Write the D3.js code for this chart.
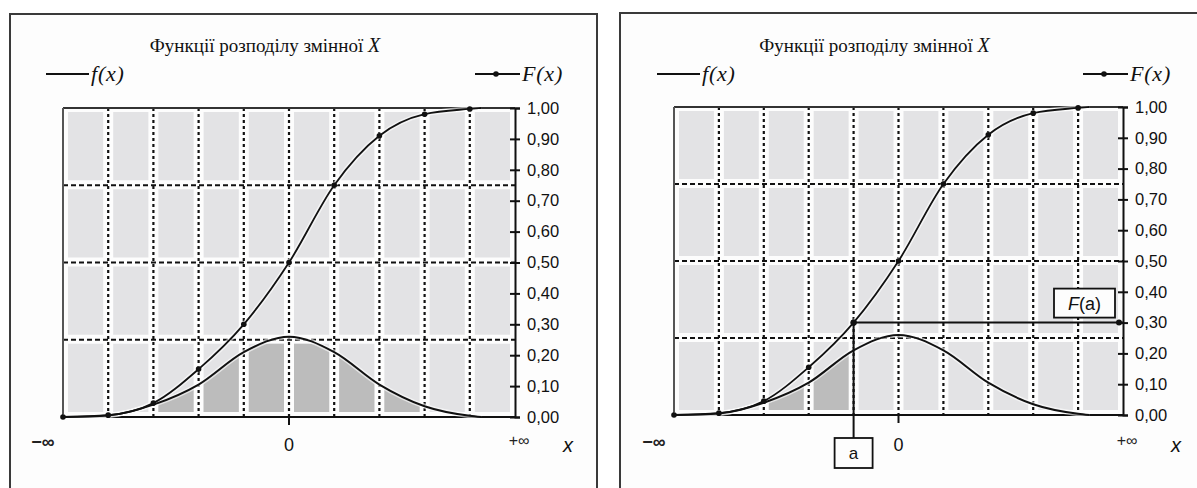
<!DOCTYPE html>
<html>
<head>
<meta charset="utf-8">
<script src="https://cdn.jsdelivr.net/npm/d3@7"></script>
<style>
  body { margin: 0; background: #fff; }
  svg { display: block; }
</style>
</head>
<body>
<svg id="chart" width="1197" height="488"></svg>
<script>
// x positions of the plotted points (grid steps of the variable X)
const xValues = [-5, -4, -3, -2, -1, 0, 1, 2, 3, 4, 4.25];
// density f(x)
const densityValues = [0, 0.005, 0.04, 0.105, 0.21, 0.26, 0.21, 0.105, 0.035, 0.004, 0];
// distribution function F(x)
const cdfValues = [0, 0.006, 0.045, 0.155, 0.30, 0.50, 0.75, 0.91, 0.98, 0.997, 1.0];
// markers of F(x) are drawn only at whole grid steps
const markerCount = 10;

const xDomain = [-5, 5];
const xGridValues = [-4, -3, -2, -1, 0, 1, 2, 3, 4];
const xCellEdges = [-5, -4, -3, -2, -1, 0, 1, 2, 3, 4, 5];
const yGridValues = [0.25, 0.5, 0.75];
const yCellEdges = [0, 0.25, 0.5, 0.75, 1];
const yTickValues = [0, 0.1, 0.2, 0.3, 0.4, 0.5, 0.6, 0.7, 0.8, 0.9, 1.0];
const yTickLabels = ["0,00", "0,10", "0,20", "0,30", "0,40", "0,50", "0,60", "0,70", "0,80", "0,90", "1,00"];

const titleText = "Функції розподілу змінної ";
const titleVar = "X";
const legendDensity = "f(x)";
const legendCdf = "F(x)";
const minusInf = "\u2212\u221E";
const plusInf = "+\u221E";
const zeroLabel = "0";
const axisName = "x";
const pointLabel = "a";

const panels = [
  { frame: [10, 14, 587, 500], left: 63, right: 515, top: 108, bottom: 417,
    shade: [-3, 3], annotate: null },
  { frame: [620, 13, 600, 500], left: 674, right: 1123, top: 107, bottom: 415,
    shade: [-3, -1], annotate: -1 }
];

const svg = d3.select("#chart");
const LIGHT = "#e3e3e5";
const DARK = "#bcbcbc";
const GAP = 5;
const SANS = "Liberation Sans, Arial, sans-serif";
const SERIF = "Liberation Serif, Times New Roman, serif";

panels.forEach((p, pi) => {
  const g = svg.append("g");
  const x = d3.scaleLinear().domain(xDomain).range([p.left, p.right]);
  const y = d3.scaleLinear().domain([0, 1]).range([p.bottom, p.top]);

  // panel frame
  g.append("rect")
    .attr("x", p.frame[0]).attr("y", p.frame[1])
    .attr("width", p.frame[2]).attr("height", p.frame[3])
    .attr("fill", "#fdfdfd").attr("stroke", "#3a3a3a").attr("stroke-width", 2);

  // background cells separated by white strips
  const cells = [];
  for (let i = 0; i < xCellEdges.length - 1; i++) {
    for (let j = 0; j < yCellEdges.length - 1; j++) {
      cells.push({ x0: xCellEdges[i], x1: xCellEdges[i + 1], y0: yCellEdges[j], y1: yCellEdges[j + 1] });
    }
  }
  const cellRect = sel => sel
    .attr("x", d => x(d.x0) + GAP)
    .attr("y", d => y(d.y1) + GAP - 1)
    .attr("width", d => x(d.x1) - x(d.x0) - 2 * GAP)
    .attr("height", d => y(d.y0) - y(d.y1) - 2 * GAP + 1);

  g.append("g").selectAll("rect").data(cells).join("rect")
    .call(cellRect).attr("fill", LIGHT);

  // shaded area under f(x) inside the chosen columns
  const clipId = "shade" + pi;
  g.append("clipPath").attr("id", clipId)
    .selectAll("rect")
    .data(cells.filter(c => c.x0 >= p.shade[0] && c.x1 <= p.shade[1]))
    .join("rect").call(cellRect);

  const pts = xValues.map((v, i) => ({ x: v, f: densityValues[i], F: cdfValues[i] }));
  const area = d3.area().x(d => x(d.x)).y0(y(0)).y1(d => y(d.f)).curve(d3.curveMonotoneX);
  g.append("path").datum(pts).attr("d", area)
    .attr("fill", DARK).attr("clip-path", `url(#${clipId})`);

  // dashed grid
  g.append("g").selectAll("line").data(yGridValues).join("line")
    .attr("x1", p.left).attr("x2", p.right)
    .attr("y1", d => y(d)).attr("y2", d => y(d))
    .attr("stroke", "#111").attr("stroke-width", 2).attr("stroke-dasharray", "5,3");
  g.append("g").selectAll("line").data(xGridValues).join("line")
    .attr("x1", d => x(d)).attr("x2", d => x(d))
    .attr("y1", p.top).attr("y2", p.bottom)
    .attr("stroke", "#111").attr("stroke-width", 2.2).attr("stroke-dasharray", "3,3");

  // plot border
  g.append("line").attr("x1", p.left).attr("x2", p.right).attr("y1", p.top).attr("y2", p.top)
    .attr("stroke", "#333").attr("stroke-width", 2);
  g.append("line").attr("x1", p.left).attr("x2", p.left).attr("y1", p.top).attr("y2", p.bottom)
    .attr("stroke", "#555").attr("stroke-width", 2);
  g.append("line").attr("x1", p.left).attr("x2", p.right).attr("y1", p.bottom).attr("y2", p.bottom)
    .attr("stroke", "#111").attr("stroke-width", 2);

  // right value axis
  const axis = d3.axisRight(y).tickValues(yTickValues)
    .tickFormat((d, i) => yTickLabels[i]).tickSize(5).tickPadding(7);
  const ag = g.append("g").attr("transform", `translate(${p.right},0)`).call(axis);
  ag.select(".domain").attr("stroke", "#111").attr("stroke-width", 2);
  ag.selectAll(".tick line").attr("x1", -5).attr("x2", 5).attr("stroke", "#111").attr("stroke-width", 2);
  ag.selectAll(".tick text").attr("font-family", SANS)
    .attr("font-size", 16.5).attr("fill", "#111");

  // tick under zero
  g.append("line").attr("x1", x(0)).attr("x2", x(0)).attr("y1", p.bottom).attr("y2", p.bottom + 8)
    .attr("stroke", "#111").attr("stroke-width", 2);

  // density and distribution curves
  const lineF = d3.line().x(d => x(d.x)).y(d => y(d.f)).curve(d3.curveMonotoneX);
  const lineCdf = d3.line().x(d => x(d.x)).y(d => y(d.F)).curve(d3.curveMonotoneX);
  g.append("path").datum(pts).attr("d", lineF).attr("fill", "none")
    .attr("stroke", "#fff").attr("stroke-width", 5).attr("stroke-opacity", 0.6);
  g.append("path").datum(pts).attr("d", lineCdf).attr("fill", "none")
    .attr("stroke", "#fff").attr("stroke-width", 5).attr("stroke-opacity", 0.6);
  g.append("path").datum(pts).attr("d", lineF).attr("fill", "none")
    .attr("stroke", "#111").attr("stroke-width", 2);
  g.append("path").datum(pts).attr("d", lineCdf).attr("fill", "none")
    .attr("stroke", "#111").attr("stroke-width", 1.8);
  g.append("g").selectAll("circle").data(pts.slice(0, markerCount)).join("circle")
    .attr("cx", d => x(d.x)).attr("cy", d => y(d.F)).attr("r", 2.8).attr("fill", "#111");

  // annotation of point a and F(a)
  if (p.annotate !== null) {
    const idx = xValues.indexOf(p.annotate);
    const Fa = cdfValues[idx];
    const ax = x(p.annotate), ay = y(Fa);
    g.append("line").attr("x1", ax).attr("x2", ax).attr("y1", ay).attr("y2", 438)
      .attr("stroke", "#111").attr("stroke-width", 2);
    g.append("line").attr("x1", ax).attr("x2", p.right).attr("y1", ay).attr("y2", ay)
      .attr("stroke", "#111").attr("stroke-width", 2);
    g.append("circle").attr("cx", p.right - 4).attr("cy", ay).attr("r", 3).attr("fill", "#111");
    g.append("circle").attr("cx", ax).attr("cy", ay).attr("r", 3.2).attr("fill", "#111");
    g.append("rect").attr("x", ax - 19).attr("y", 438).attr("width", 38).attr("height", 30)
      .attr("fill", "#fdfdfd").attr("stroke", "#111").attr("stroke-width", 1.8);
    g.append("text").attr("x", ax).attr("y", 459).attr("text-anchor", "middle")
      .attr("font-family", SANS).attr("font-size", 17)
      .attr("fill", "#111").text(pointLabel);
    const bx = p.right - 69;
    g.append("rect").attr("x", bx).attr("y", ay - 34).attr("width", 61).attr("height", 29)
      .attr("fill", "#fdfdfd").attr("stroke", "#111").attr("stroke-width", 1.8);
    const ft = g.append("text").attr("x", bx + 30.5).attr("y", ay - 13).attr("text-anchor", "middle")
      .attr("font-family", SANS).attr("font-size", 18).attr("fill", "#111");
    ft.append("tspan").attr("font-style", "italic").text("F");
    ft.append("tspan").text("(a)");
  }

  // title
  const cx = (p.left + p.right) / 2 - 24;
  const t = g.append("text").attr("x", cx).attr("y", 52).attr("text-anchor", "middle")
    .attr("font-family", SERIF).attr("font-size", 19)
    .attr("fill", "#111");
  t.append("tspan").text(titleText);
  t.append("tspan").attr("font-style", "italic").attr("font-size", 20).text(titleVar);

  // legend
  const legY = 74;
  g.append("line").attr("x1", p.left - 17).attr("x2", p.left + 26).attr("y1", legY).attr("y2", legY)
    .attr("stroke", "#111").attr("stroke-width", 2);
  g.append("text").attr("x", p.left + 28).attr("y", legY + 7)
    .attr("font-family", SERIF).attr("font-style", "italic")
    .attr("font-size", 22).attr("letter-spacing", 0.8).attr("fill", "#111").text(legendDensity);
  g.append("line").attr("x1", p.right - 40).attr("x2", p.right + 5).attr("y1", legY).attr("y2", legY)
    .attr("stroke", "#111").attr("stroke-width", 1.8);
  g.append("circle").attr("cx", p.right - 19).attr("cy", legY).attr("r", 2.8).attr("fill", "#111");
  g.append("text").attr("x", p.right + 7).attr("y", legY + 7)
    .attr("font-family", SERIF).attr("font-style", "italic")
    .attr("font-size", 22).attr("letter-spacing", 0.8).attr("fill", "#111").text(legendCdf);

  // category labels under the axis
  g.append("text").attr("x", x(xDomain[0]) - 20).attr("y", 448).attr("text-anchor", "middle")
    .attr("font-family", SANS).attr("font-size", 18)
    .attr("font-weight", "bold").attr("fill", "#222").text(minusInf);
  g.append("text").attr("x", x(0)).attr("y", 451).attr("text-anchor", "middle")
    .attr("font-family", SANS).attr("font-size", 18)
    .attr("fill", "#111").text(zeroLabel);
  g.append("text").attr("x", x(xDomain[1]) + 4).attr("y", 446).attr("text-anchor", "middle")
    .attr("font-family", SANS).attr("font-size", 16)
    .attr("fill", "#222").text(plusInf);
  g.append("text").attr("x", x(xDomain[1]) + 53).attr("y", 452).attr("text-anchor", "middle")
    .attr("font-family", SANS).attr("font-size", 20)
    .attr("font-style", "italic").attr("fill", "#111").text(axisName);
});
</script>
</body>
</html>
